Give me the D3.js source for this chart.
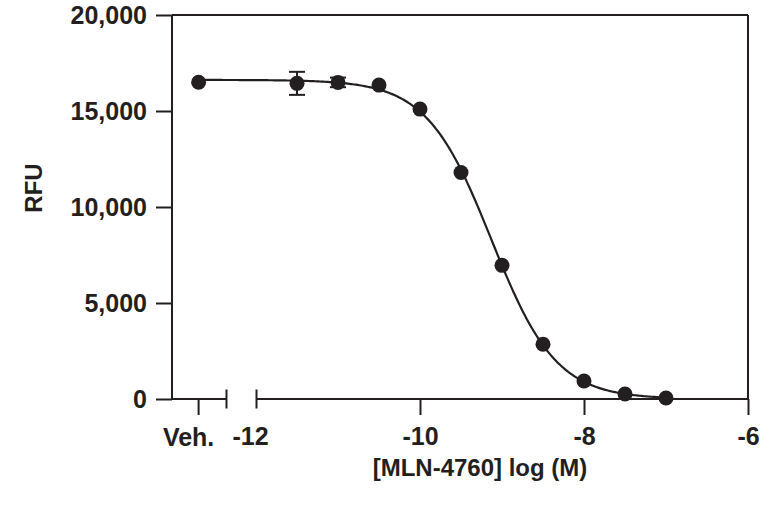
<!DOCTYPE html>
<html>
<head>
<meta charset="utf-8">
<script src="https://cdn.jsdelivr.net/npm/d3@7"></script>
<style>
  html, body { margin: 0; padding: 0; background: #fff; }
  svg text { font-family: "Liberation Sans", Arial, Helvetica, sans-serif; font-weight: bold; fill: #231f20; }
</style>
</head>
<body>
<svg id="chart" width="770" height="512"></svg>
<script>
// ---- data ----
const vehicleLabel = "Veh.";
const vehicleValue = 16500;
const logConc = [-11.5, -11, -10.5, -10, -9.5, -9, -8.5, -8, -7.5, -7];
const rfu     = [16440, 16490, 16350, 15100, 11800, 6960, 2850, 940, 260, 50];
const rfuErr  = [600, 250, 0, 0, 0, 0, 0, 0, 0, 0];
const xTicks = [-12, -10, -8, -6];
const yTicks = [0, 5000, 10000, 15000, 20000];
// fitted 4-parameter logistic curve (top, bottom, logIC50, Hill slope)
const fitTop = 16620, fitBottom = 0, fitLogIC50 = -9.13, fitHill = 1.1;
// axis break positions in log units
const vehPos = -12.7, breakStart = -12.36, breakEnd = -12;

const color = "#231f20";
const fs = 25, fsTitle = 24;
const svg = d3.select("#chart");

const x = d3.scaleLinear().domain([-12, -6]).range([256, 748]);
const y = d3.scaleLinear().domain([0, 20000]).range([399, 15]);
const x0 = 172;

// y axis
const yAxis = d3.axisLeft(y).tickValues(yTicks).tickFormat(d3.format(",")).tickSize(16).tickPadding(9);
const gy = svg.append("g").attr("transform", `translate(${x0},0)`).call(yAxis);
gy.select(".domain").attr("d", `M0,${y(0)}V${y(20000)}`).attr("stroke", color).attr("stroke-width", 2);
gy.selectAll(".tick line").attr("stroke", color).attr("stroke-width", 2);
gy.selectAll(".tick text").attr("font-size", fs).attr("fill", color).attr("dy", "0.35em");

// frame top and right
svg.append("line").attr("x1", x0).attr("x2", x(-6)).attr("y1", y(20000)).attr("y2", y(20000))
  .attr("stroke", color).attr("stroke-width", 2);
svg.append("line").attr("x1", x(-6)).attr("x2", x(-6)).attr("y1", y(20000)).attr("y2", y(0))
  .attr("stroke", color).attr("stroke-width", 2);

// x axis: segment 1 (vehicle)
const axisY = y(0);
const gx = svg.append("g");
gx.append("line").attr("x1", x0).attr("x2", x(breakStart)).attr("y1", axisY).attr("y2", axisY)
  .attr("stroke", color).attr("stroke-width", 2);
gx.append("line").attr("x1", x(breakStart)).attr("x2", x(breakStart)).attr("y1", axisY - 9.5).attr("y2", axisY + 9.5)
  .attr("stroke", color).attr("stroke-width", 2);
gx.append("line").attr("x1", x(vehPos)).attr("x2", x(vehPos)).attr("y1", axisY).attr("y2", axisY + 16)
  .attr("stroke", color).attr("stroke-width", 2);
gx.append("text").attr("x", x(vehPos) - 10).attr("y", axisY + 47).attr("text-anchor", "middle")
  .attr("font-size", fs).text(vehicleLabel);

// x axis: segment 2 (log scale)
const xAxis = d3.axisBottom(x).tickValues(xTicks).tickFormat(d3.format("d")).tickSize(16).tickPadding(12);
const gx2 = svg.append("g").attr("transform", `translate(0,${axisY})`).call(xAxis);
gx2.select(".domain").remove();
gx2.selectAll(".tick line").attr("stroke", color).attr("stroke-width", 2)
  .attr("y1", d => d === breakEnd ? -9.5 : 0).attr("y2", d => d === breakEnd ? 9.5 : 16);
gx2.selectAll(".tick text").attr("font-size", fs).attr("fill", color)
  .attr("dx", d => d === breakEnd ? -6 : 0)
  .text(d => d3.format("d")(d).replace("−", "-"));
gx2.append("line").attr("x1", x(breakEnd)).attr("x2", x(-6)).attr("y1", 0).attr("y2", 0)
  .attr("stroke", color).attr("stroke-width", 2);

// axis titles
svg.append("text").attr("transform", `translate(42,188) rotate(-90)`).attr("text-anchor", "middle")
  .attr("font-size", fsTitle).text("RFU");
svg.append("text").attr("x", 480).attr("y", 476).attr("text-anchor", "middle")
  .attr("font-size", fsTitle).text("[MLN-4760] log (M)");

// fitted curve
const fit = v => fitBottom + (fitTop - fitBottom) / (1 + Math.pow(10, (v - fitLogIC50) * fitHill));
const curveX = d3.range(vehPos, -7 + 1e-9, 0.02);
svg.append("path").datum(curveX)
  .attr("d", d3.line().x(v => x(v)).y(v => y(fit(v))).curve(d3.curveLinear))
  .attr("fill", "none").attr("stroke", color).attr("stroke-width", 2.2);

// error bars
const pts = logConc.map((c, i) => ({c, v: rfu[i], e: rfuErr[i]}));
const eb = svg.append("g");
pts.filter(p => p.e > 0).forEach(p => {
  eb.append("line").attr("x1", x(p.c)).attr("x2", x(p.c)).attr("y1", y(p.v + p.e)).attr("y2", y(p.v - p.e))
    .attr("stroke", color).attr("stroke-width", 2);
  [p.v + p.e, p.v - p.e].forEach(val => {
    eb.append("line").attr("x1", x(p.c) - 8).attr("x2", x(p.c) + 8).attr("y1", y(val)).attr("y2", y(val))
      .attr("stroke", color).attr("stroke-width", 2);
  });
});

// points
svg.append("circle").attr("cx", x(vehPos)).attr("cy", y(vehicleValue)).attr("r", 7.5).attr("fill", color);
svg.append("g").selectAll("circle").data(pts).join("circle")
  .attr("cx", p => x(p.c)).attr("cy", p => y(p.v)).attr("r", 7.5).attr("fill", color);
</script>
</body>
</html>
